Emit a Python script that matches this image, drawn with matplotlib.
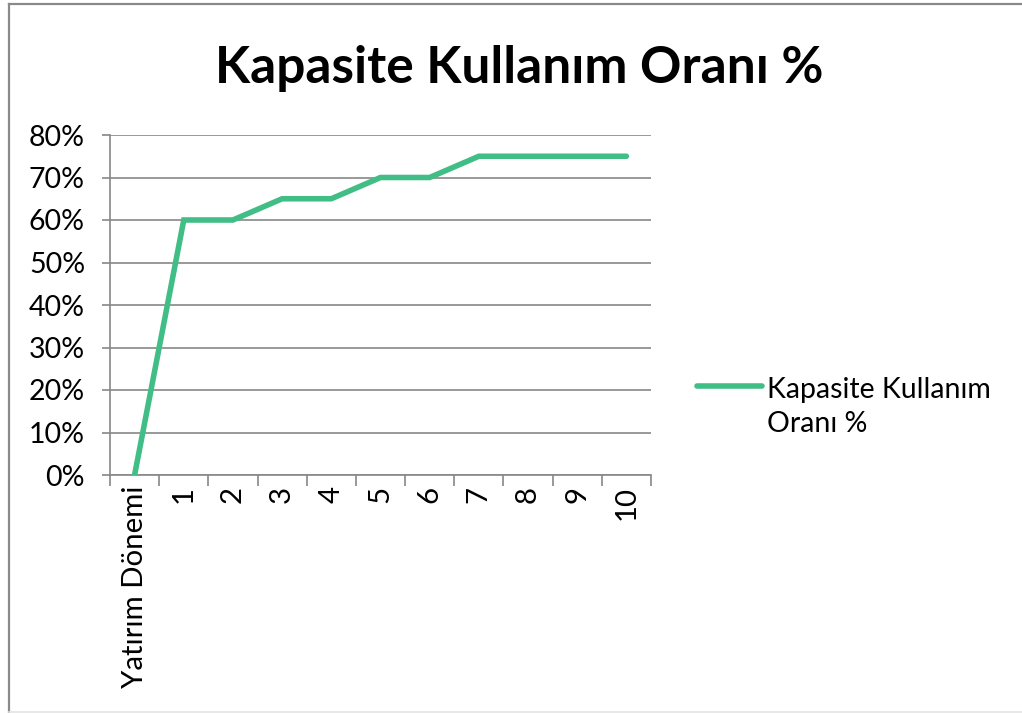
import matplotlib
matplotlib.use("Agg")
import matplotlib.pyplot as plt
from matplotlib.lines import Line2D

categories = ["Yatırım Dönemi", "1", "2", "3", "4", "5", "6", "7", "8", "9", "10"]
values = [0, 60, 60, 65, 65, 70, 70, 75, 75, 75, 75]
yticks = [0, 10, 20, 30, 40, 50, 60, 70, 80]
series_label = "Kapasite Kullanım\nOranı %"

plt.rcParams['font.family'] = ['Lato', 'DejaVu Sans']
LINE_COLOR = '#41BD86'

W, H = 1022, 713
fig = plt.figure(figsize=(W/100, H/100), dpi=100)

# chart-area border (cropped: left and top visible, faint bottom)
fig.add_artist(Line2D([8.5/W, 8.5/W], [0, 1-4/H], transform=fig.transFigure,
                      color='#8a8a8a', linewidth=1.6))
fig.add_artist(Line2D([8.5/W, 1], [1-4/H, 1-4/H], transform=fig.transFigure,
                      color='#8a8a8a', linewidth=1.6))
fig.add_artist(Line2D([8.5/W, 1], [1.2/H, 1.2/H], transform=fig.transFigure,
                      color='#e4e4e4', linewidth=1.2))

ax = fig.add_axes([110/W, 1-475/H, (651-110)/W, (475-135)/H])
x = list(range(len(categories)))
ax.plot(x, values, color=LINE_COLOR, linewidth=4, solid_capstyle='round',
        solid_joinstyle='miter', zorder=3)
ax.set_xlim(-0.5, len(categories) - 0.5)
ax.set_ylim(0, 80)
ax.set_yticks(yticks)
ax.set_yticklabels([f"{v}%" for v in yticks])
ax.grid(axis='y', color='#888888', linewidth=1.2)
ax.set_axisbelow(True)
for s in ['top', 'right']:
    ax.spines[s].set_visible(False)
for s in ['left', 'bottom']:
    ax.spines[s].set_color('#888888')
    ax.spines[s].set_linewidth(1.2)
ax.set_xticks(x)
ax.set_xticklabels(categories, rotation=90, fontsize=21.2)
ax.tick_params(axis='x', length=0, pad=8)
ax.set_xticks([i - 0.5 for i in range(len(categories) + 1)], minor=True)
ax.tick_params(axis='x', which='minor', length=8, width=1.2, color='#888888')
ax.tick_params(axis='y', length=6, width=1.2, color='#888888', labelsize=20.5, pad=12)

fig.text(519/W, 1-68/H, "Kapasite Kullanım Oranı %", ha='center', va='center',
         fontsize=37, fontweight='bold')

# legend (manual, Excel-like)
fig.add_artist(Line2D([697/W, 762/W], [1-386/H, 1-386/H], transform=fig.transFigure,
                      color=LINE_COLOR, linewidth=4, solid_capstyle='round'))
fig.text(767/W, 1-407/H, series_label, ha='left', va='center', fontsize=20.5,
         linespacing=1.35)

fig.savefig("out.png", dpi=100)
